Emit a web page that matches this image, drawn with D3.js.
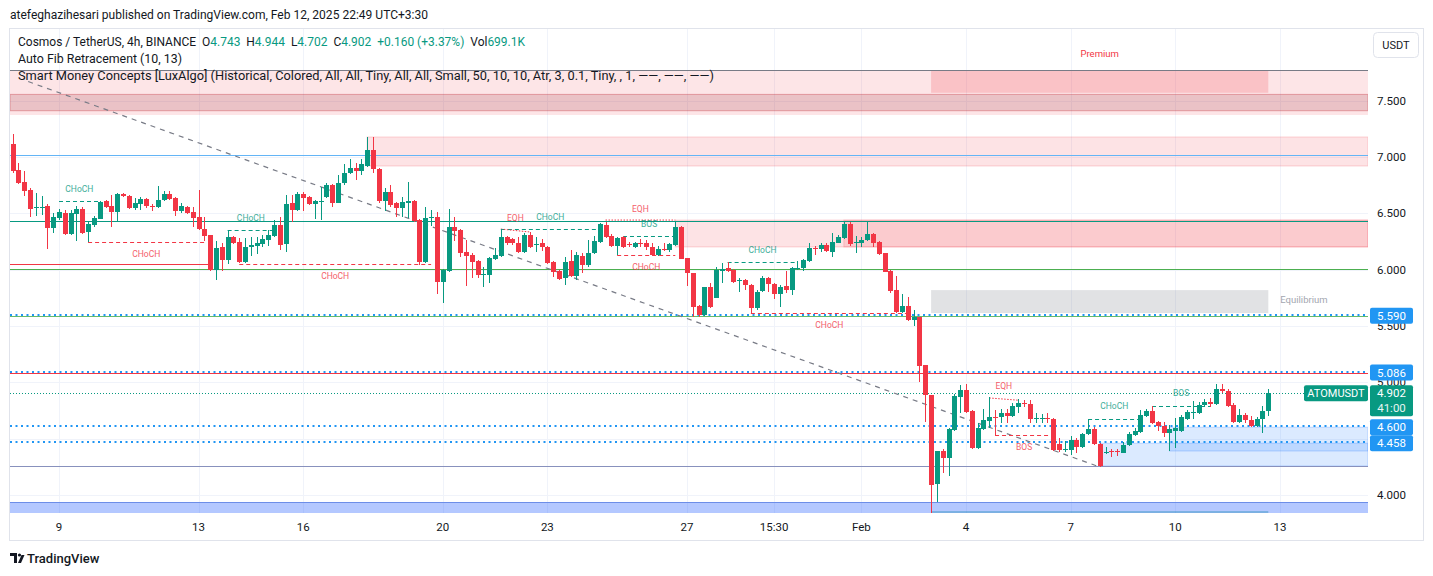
<!DOCTYPE html>
<meta charset="utf-8">
<head>
<script src="https://cdn.jsdelivr.net/npm/d3@7"></script>
<style>
  body { margin: 0; background: #fff; }
  text { font-family: Roboto, "Liberation Sans", sans-serif; }
</style>
</head>
<body>
<svg id="chart" width="1433" height="576"></svg>
<script>
// ---- candle data (4h ATOM/USDT, index 0 = first visible bar) ----
const opens = [7.116,6.884,6.778,6.707,6.547,6.547,6.565,6.369,6.458,6.503,
  6.316,6.494,6.538,6.334,6.396,6.449,6.609,6.565,6.512,6.671,
  6.653,6.547,6.582,6.627,6.565,6.556,6.618,6.671,6.635,6.520,
  6.556,6.512,6.467,6.360,6.307,5.996,6.201,6.085,6.289,6.245,
  6.067,6.201,6.209,6.227,6.263,6.298,6.396,6.227,6.591,6.529,
  6.671,6.644,6.582,6.600,6.644,6.751,6.591,6.769,6.857,6.902,
  6.875,6.920,7.062,6.893,6.609,6.689,6.591,6.547,6.591,6.609,
  6.440,6.067,6.458,6.467,5.890,5.987,6.378,6.351,6.156,6.129,
  6.076,5.952,5.952,6.094,6.120,6.289,6.272,6.236,6.156,6.307,
  6.218,6.236,6.201,6.067,5.987,5.925,6.076,5.943,6.120,6.040,
  6.147,6.245,6.396,6.298,6.209,6.289,6.227,6.201,6.236,6.236,
  6.201,6.129,6.183,6.174,6.218,6.378,6.100,5.969,5.677,5.597,
  5.845,5.748,5.987,6.014,5.996,5.899,5.907,5.863,5.659,5.810,
  5.925,5.872,5.783,5.854,5.819,6.005,6.014,6.076,6.192,6.183,
  6.218,6.156,6.236,6.281,6.405,6.236,6.236,6.263,6.316,6.245,
  6.147,5.987,5.819,5.623,5.677,5.552,5.579,5.153,4.886,4.096,
  4.389,4.327,4.575,4.869,4.931,4.744,4.416,4.584,4.656,4.691,
  4.691,4.727,4.700,4.780,4.815,4.806,4.673,4.673,4.682,4.673,
  4.451,4.398,4.398,4.487,4.425,4.540,4.584,4.451,4.371,4.389,
  4.389,4.371,4.443,4.531,4.558,4.700,4.744,4.647,4.611,4.549,
  4.567,4.567,4.673,4.727,4.727,4.798,4.824,4.806,4.940,4.922,
  4.798,4.647,4.709,4.664,4.611,4.673,4.743]
const highs = [7.204,6.946,6.875,6.725,6.680,6.653,6.582,6.503,6.538,6.529,
  6.529,6.565,6.556,6.423,6.476,6.609,6.618,6.662,6.680,6.680,
  6.662,6.635,6.644,6.635,6.582,6.742,6.698,6.698,6.644,6.591,
  6.565,6.556,6.707,6.467,6.307,6.254,6.236,6.351,6.298,6.281,
  6.281,6.289,6.289,6.307,6.351,6.440,6.467,6.662,6.662,6.689,
  6.689,6.653,6.618,6.733,6.769,6.760,6.840,6.938,6.982,6.946,
  6.982,7.178,7.178,6.902,6.725,6.751,6.600,6.644,6.778,6.618,
  6.449,6.556,6.529,6.512,6.005,6.538,6.467,6.360,6.263,6.147,
  6.085,6.023,6.111,6.192,6.360,6.298,6.281,6.289,6.325,6.334,
  6.289,6.272,6.209,6.076,5.996,6.111,6.174,6.156,6.147,6.263,
  6.298,6.414,6.423,6.316,6.289,6.298,6.245,6.245,6.272,6.263,
  6.236,6.209,6.236,6.236,6.423,6.387,6.103,5.970,5.686,5.845,
  5.881,6.023,6.058,6.067,6.005,5.925,5.916,5.872,5.819,5.943,
  5.934,5.881,5.863,5.987,6.023,6.076,6.094,6.236,6.209,6.236,
  6.236,6.325,6.307,6.423,6.423,6.298,6.289,6.423,6.325,6.254,
  6.147,5.996,5.943,5.783,5.757,5.641,5.579,5.153,4.886,4.389,
  4.407,4.593,4.895,4.975,4.984,4.753,4.638,4.762,4.869,4.753,
  4.762,4.762,4.815,4.851,4.842,4.842,4.727,4.718,4.727,4.682,
  4.505,4.478,4.522,4.505,4.549,4.673,4.602,4.460,4.425,4.407,
  4.407,4.469,4.558,4.593,4.753,4.762,4.789,4.656,4.647,4.620,
  4.682,4.709,4.753,4.833,4.824,4.851,4.860,4.984,4.984,4.940,
  4.815,4.762,4.727,4.700,4.691,4.789,4.944]
const lows = [6.857,6.760,6.653,6.467,6.476,6.485,6.183,6.325,6.440,6.307,
  6.310,6.254,6.320,6.245,6.378,6.449,6.547,6.378,6.423,6.644,
  6.538,6.529,6.529,6.547,6.520,6.550,6.609,6.620,6.476,6.503,
  6.494,6.378,6.351,6.254,5.990,5.907,5.987,6.049,6.227,6.058,
  6.060,6.120,6.138,6.201,6.209,6.289,6.174,6.156,6.423,6.520,
  6.520,6.573,6.449,6.440,6.640,6.556,6.590,6.751,6.849,6.796,
  6.840,6.915,6.857,6.591,6.520,6.556,6.467,6.467,6.458,6.423,
  6.040,6.060,6.387,5.783,5.703,5.980,6.254,6.111,5.854,5.925,
  5.925,5.845,5.881,6.085,6.115,6.218,6.218,6.147,6.150,6.195,
  6.156,6.165,6.049,5.934,5.910,5.863,5.934,5.907,5.969,6.023,
  6.138,6.240,6.285,6.201,6.129,6.195,6.201,6.192,6.201,6.174,
  6.120,6.120,6.165,6.156,6.209,6.090,5.854,5.579,5.579,5.590,
  5.660,5.745,5.881,5.978,5.881,5.801,5.819,5.614,5.641,5.801,
  5.801,5.739,5.668,5.792,5.774,6.000,5.987,6.067,6.129,6.156,
  6.156,6.111,6.236,6.272,6.209,6.147,6.201,6.254,6.201,6.129,
  5.975,5.792,5.614,5.614,5.543,5.499,5.002,4.647,3.810,3.936,
  4.194,4.167,4.567,4.727,4.727,4.407,4.407,4.575,4.593,4.522,
  4.638,4.638,4.691,4.727,4.780,4.638,4.638,4.638,4.638,4.389,
  4.380,4.380,4.354,4.371,4.420,4.531,4.443,4.247,4.363,4.336,
  4.345,4.368,4.434,4.522,4.549,4.691,4.629,4.567,4.513,4.389,
  4.416,4.558,4.664,4.673,4.718,4.789,4.780,4.798,4.904,4.780,
  4.638,4.638,4.638,4.602,4.602,4.549,4.702]
const closes = [6.875,6.769,6.698,6.538,6.556,6.556,6.369,6.467,6.512,6.316,
  6.503,6.538,6.325,6.405,6.458,6.600,6.556,6.512,6.671,6.653,
  6.547,6.591,6.627,6.565,6.556,6.618,6.671,6.627,6.520,6.565,
  6.503,6.458,6.360,6.298,5.996,6.192,6.085,6.289,6.236,6.067,
  6.201,6.218,6.236,6.272,6.307,6.396,6.218,6.582,6.529,6.671,
  6.635,6.582,6.609,6.609,6.751,6.591,6.769,6.857,6.902,6.875,
  6.938,7.062,6.893,6.609,6.689,6.573,6.547,6.600,6.609,6.431,
  6.067,6.458,6.467,5.890,5.996,6.378,6.343,6.147,6.120,6.067,
  5.952,5.960,6.103,6.129,6.289,6.236,6.236,6.156,6.307,6.201,
  6.227,6.201,6.058,5.978,5.916,6.067,5.943,6.129,6.040,6.147,
  6.254,6.405,6.289,6.209,6.285,6.201,6.218,6.236,6.227,6.201,
  6.129,6.183,6.174,6.227,6.378,6.094,5.969,5.668,5.597,5.845,
  5.668,5.996,6.005,5.987,5.890,5.907,5.863,5.659,5.801,5.925,
  5.872,5.783,5.845,5.819,6.014,6.014,6.085,6.192,6.183,6.218,
  6.165,6.245,6.289,6.405,6.227,6.245,6.263,6.316,6.236,6.138,
  5.978,5.810,5.623,5.677,5.552,5.579,5.144,4.886,4.087,4.389,
  4.327,4.584,4.878,4.931,4.735,4.416,4.593,4.664,4.691,4.682,
  4.727,4.700,4.789,4.815,4.806,4.673,4.682,4.682,4.673,4.398,
  4.398,4.407,4.487,4.425,4.540,4.584,4.451,4.256,4.380,4.380,
  4.380,4.443,4.540,4.567,4.709,4.744,4.638,4.611,4.549,4.584,
  4.593,4.691,4.736,4.736,4.798,4.824,4.806,4.940,4.922,4.789,
  4.647,4.709,4.664,4.611,4.673,4.744,4.902]

// ---- axes ----
const timeTickIndex = [8, 32, 50, 74, 92, 116, 131, 146, 164, 182, 200, 218]
const timeTickLabels = ["9", "13", "16", "20", "23", "27", "15:30", "Feb", "4", "7", "10", "13"]
const priceTicks = [4, 4.5, 5, 5.5, 6, 6.5, 7, 7.5]

// ---- indicator levels ----
const fibLevels = [7.772, 7.022, 6.432, 6.009, 5.59, 5.086, 4.256, 3.936]
const markedPrices = [5.590, 5.086, 4.600, 4.458]
const lastPrice = 4.902
const countdown = "41:00"
const symbolName = "ATOMUSDT"
const premiumBand = [7.772, 7.373]
const premiumInner = [7.556, 7.411]
const smcZones = [ // [from, to, top, bottom, name]
  [158, 216, 7.772, 7.57, "Premium"],
  [158, 216, 5.818, 5.614, "Equilibrium"],
  [158, 216, 3.856, 3.60, "Discount"]]
const bearBlocks = [[61, 7.178, 6.920], [114, 6.440, 6.201], [143, 6.440, 6.201]]
const bullBlocks = [[187, 4.458, 4.256], [199, 4.600, 4.389]]
const lowBlock = [3.936, 3.70]
const weakLow = [-2, 34, 6.05]
const trendLine = [[2.7, 7.67], [187, 4.247]]
const structure = [ // [from, to, price, side, label]
  [8, 15, 6.609, "bull", "CHoCH"],
  [13, 33, 6.245, "bear", "CHoCH"],
  [37, 45, 6.351, "bull", "CHoCH"],
  [39, 72, 6.05, "bear", "CHoCH"],
  [84, 101, 6.36, "bull", "CHoCH"],
  [105, 114, 6.298, "bull", "BOS"],
  [104, 114, 6.129, "bear", "CHoCH"],
  [123, 135, 6.067, "bull", "CHoCH"],
  [127, 154, 5.614, "bear", "CHoCH"],
  [169, 179, 4.531, "bear", "BOS"],
  [185, 194, 4.673, "bull", "CHoCH"],
  [196, 206, 4.789, "bull", "BOS"]]
const equalHighs = [[84, 89, 6.360, 6.334], [102, 114, 6.44, 6.44], [168, 173, 4.86, 4.84]]

const up = "#089981", down = "#f23645", ink = "#131722"
const fibColors = ["#787b86", "#64b5f6", "#089981", "#4caf50", "#66bb6a", "#f23645", "#8891bd", "#6d8ee8"]

const paneL = 10, paneR = 1368, paneT = 29, paneB = 513

const x = d3.scaleLinear().domain([0, 216]).range([12.5, 1268.3])
const y = d3.scaleLinear().domain([4, 7.5]).range([494.8, 100.7])

const svg = d3.select("#chart")
svg.append("rect").attr("width", 1433).attr("height", 576).attr("fill", "#fff")

svg.append("defs").append("clipPath").attr("id", "pane")
  .append("rect").attr("x", paneL).attr("y", paneT).attr("width", paneR - paneL).attr("height", paneB - paneT)

// frame
svg.append("rect").attr("x", 9.5).attr("y", 28.5).attr("width", 1414).attr("height", 512)
  .attr("fill", "none").attr("stroke", "#e0e3eb")

const pane = svg.append("g").attr("clip-path", "url(#pane)")

// grid
pane.selectAll(".hgrid").data(priceTicks).join("line")
  .attr("x1", paneL).attr("x2", paneR)
  .attr("y1", d => Math.round(y(d)) + 0.5).attr("y2", d => Math.round(y(d)) + 0.5)
  .attr("stroke", "#f0f3fa")
pane.selectAll(".vgrid").data(timeTickIndex).join("line")
  .attr("x1", d => Math.round(x(d)) + 0.5).attr("x2", d => Math.round(x(d)) + 0.5)
  .attr("y1", paneT).attr("y2", paneB)
  .attr("stroke", "#f0f3fa")

// zones
pane.append("rect").attr("x", paneL).attr("width", paneR - paneL)
  .attr("y", y(premiumBand[0])).attr("height", y(premiumBand[1]) - y(premiumBand[0]))
  .attr("fill", "rgba(242,54,69,0.13)")
pane.append("rect").attr("x", paneL).attr("width", paneR - paneL)
  .attr("y", y(premiumInner[0])).attr("height", y(premiumInner[1]) - y(premiumInner[0]))
  .attr("fill", "rgba(150,40,50,0.18)").attr("stroke", "rgba(200,60,70,0.4)")

const zoneFill = { Premium: "rgba(242,54,69,0.2)", Equilibrium: "rgba(120,123,134,0.22)", Discount: "rgba(8,153,129,0.35)" }
pane.selectAll(".smc").data(smcZones).join("rect")
  .attr("x", d => x(d[0])).attr("width", d => x(d[1]) - x(d[0]))
  .attr("y", d => y(d[2])).attr("height", d => y(d[3]) - y(d[2]))
  .attr("fill", d => zoneFill[d[4]])

pane.selectAll(".bear").data(bearBlocks).join("rect")
  .attr("x", d => x(d[0])).attr("width", d => paneR - x(d[0]))
  .attr("y", d => y(d[1])).attr("height", d => y(d[2]) - y(d[1]))
  .attr("fill", "rgba(242,54,69,0.14)").attr("stroke", "rgba(242,54,69,0.2)")

pane.selectAll(".bull").data(bullBlocks).join("rect")
  .attr("x", d => x(d[0])).attr("width", d => paneR - x(d[0]))
  .attr("y", d => y(d[1])).attr("height", d => y(d[2]) - y(d[1]))
  .attr("fill", "rgba(41,130,255,0.17)").attr("stroke", "rgba(41,120,255,0.25)")

pane.append("rect").attr("x", paneL).attr("width", paneR - paneL)
  .attr("y", y(lowBlock[0])).attr("height", y(lowBlock[1]) - y(lowBlock[0]))
  .attr("fill", "rgba(41,98,255,0.35)")

// marked price lines (drawn just above their level)
pane.selectAll(".mark").data(markedPrices).join("line")
  .attr("x1", paneL).attr("x2", paneR)
  .attr("y1", d => Math.round(y(d)) - 1).attr("y2", d => Math.round(y(d)) - 1)
  .attr("stroke", "#2196f3").attr("stroke-width", 2).attr("stroke-dasharray", "2,3.5")

// fib lines
pane.selectAll(".fib").data(fibLevels).join("line")
  .attr("x1", paneL).attr("x2", paneR)
  .attr("y1", d => Math.round(y(d)) + 0.5).attr("y2", d => Math.round(y(d)) + 0.5)
  .attr("stroke", (d, i) => fibColors[i]).attr("stroke-width", 1.2)

// weak low line
pane.append("line")
  .attr("x1", x(weakLow[0])).attr("x2", x(weakLow[1]))
  .attr("y1", Math.round(y(weakLow[2])) + 0.5).attr("y2", Math.round(y(weakLow[2])) + 0.5)
  .attr("stroke", down).attr("stroke-width", 1.2)

pane.append("line")
  .attr("x1", paneL).attr("x2", paneR)
  .attr("y1", Math.round(y(lastPrice)) + 0.5).attr("y2", Math.round(y(lastPrice)) + 0.5)
  .attr("stroke", up).attr("stroke-dasharray", "1,2")

// trend line
pane.append("line")
  .attr("x1", x(trendLine[0][0])).attr("y1", y(trendLine[0][1]))
  .attr("x2", x(trendLine[1][0])).attr("y2", y(trendLine[1][1]))
  .attr("stroke", "#787b86").attr("stroke-width", 1.2).attr("stroke-dasharray", "5,5")

// structure lines + labels
pane.selectAll(".struct").data(structure).join("line")
  .attr("x1", d => x(d[0])).attr("x2", d => x(d[1]))
  .attr("y1", d => Math.round(y(d[2])) + 0.5).attr("y2", d => Math.round(y(d[2])) + 0.5)
  .attr("stroke", d => d[3] === "bull" ? up : down).attr("stroke-width", 1.2).attr("stroke-dasharray", "4,3")

pane.selectAll(".eqh").data(equalHighs).join("line")
  .attr("x1", d => x(d[0])).attr("x2", d => x(d[1]))
  .attr("y1", d => y(d[2])).attr("y2", d => y(d[3]))
  .attr("stroke", down).attr("stroke-dasharray", "1.5,1.5")

// candles
const candles = d3.range(opens.length).map(i => ({
  i, o: opens[i], c: closes[i],
  h: Math.max(highs[i], opens[i], closes[i]), l: Math.min(lows[i], opens[i], closes[i])
}))
const cg = pane.append("g").attr("shape-rendering", "crispEdges")
cg.selectAll("line").data(candles).join("line")
  .attr("x1", d => Math.round(x(d.i)) + 0.5).attr("x2", d => Math.round(x(d.i)) + 0.5)
  .attr("y1", d => y(d.h)).attr("y2", d => y(d.l))
  .attr("stroke", d => d.c >= d.o ? up : down)
cg.selectAll("rect").data(candles).join("rect")
  .attr("x", d => Math.round(x(d.i)) - 2).attr("width", 5)
  .attr("y", d => y(Math.max(d.o, d.c)))
  .attr("height", d => Math.max(1, Math.abs(y(d.o) - y(d.c))))
  .attr("fill", d => d.c >= d.o ? up : down)

// small labels
pane.selectAll(".slabel").data(structure.filter(d => d[4])).join("text")
  .attr("x", d => (x(d[0]) + x(d[1])) / 2)
  .attr("y", d => y(d[2]) + (d[3] === "bull" ? -12.5 : 12))
  .attr("dy", "0.35em").attr("text-anchor", "middle")
  .attr("font-size", 8.5).attr("fill", d => d[3] === "bull" ? up : down).attr("opacity", 0.8)
  .text(d => d[4])
pane.selectAll(".eqlabel").data(equalHighs).join("text")
  .attr("x", d => (x(d[0]) + x(d[1])) / 2)
  .attr("y", d => y(Math.max(d[2], d[3])) - 11.5)
  .attr("dy", "0.35em").attr("text-anchor", "middle")
  .attr("font-size", 8.5).attr("fill", down).attr("opacity", 0.8)
  .text("EQH")

const prem = smcZones[0], equi = smcZones[1]
pane.append("text").attr("x", x((prem[0] + prem[1]) / 2)).attr("y", y(prem[2]) - 16)
  .attr("dy", "0.35em").attr("text-anchor", "middle").attr("font-size", 9.5)
  .attr("fill", down).text(prem[4])
pane.append("text").attr("x", x(equi[1]) + 12).attr("y", (y(equi[2]) + y(equi[3])) / 2 - 2)
  .attr("dy", "0.35em").attr("font-size", 9.5).attr("fill", "#a3a6af").text(equi[4])

// ---- price axis (labels hidden where a price tag sits on top) ----
const shownTicks = priceTicks.filter(t => markedPrices.every(p => Math.abs(y(t) - y(p)) > 7))
svg.selectAll(".ptick").data(shownTicks).join("text")
  .attr("x", 1377).attr("y", d => y(d)).attr("dy", "0.35em")
  .attr("font-size", 11.5).attr("fill", ink)
  .text(d => d3.format(".3f")(d))

const tags = svg.append("g")
markedPrices.forEach(p => {
  const cy = y(p)
  tags.append("rect").attr("x", 1370).attr("y", cy - 8).attr("width", 43).attr("height", 16)
    .attr("rx", 2).attr("fill", "#2196f3")
  tags.append("text").attr("x", 1391.5).attr("y", cy).attr("dy", "0.35em").attr("text-anchor", "middle")
    .attr("font-size", 11.5).attr("fill", "#fff").text(d3.format(".3f")(p))
})
const ly = y(lastPrice)
tags.append("rect").attr("x", 1370).attr("y", ly - 8).attr("width", 43).attr("height", 31)
  .attr("rx", 2).attr("fill", up)
tags.append("text").attr("x", 1391.5).attr("y", ly).attr("dy", "0.35em").attr("text-anchor", "middle")
  .attr("font-size", 11.5).attr("fill", "#fff").text(d3.format(".3f")(lastPrice))
tags.append("text").attr("x", 1391.5).attr("y", ly + 15).attr("dy", "0.35em").attr("text-anchor", "middle")
  .attr("font-size", 11.5).attr("fill", "#e6f5f2").text(countdown)
tags.append("rect").attr("x", 1304).attr("y", ly - 8).attr("width", 64).attr("height", 16)
  .attr("rx", 2).attr("fill", up)
tags.append("text").attr("x", 1336).attr("y", ly).attr("dy", "0.35em").attr("text-anchor", "middle")
  .attr("font-size", 11).attr("fill", "#fff").text(symbolName)

svg.append("rect").attr("x", 1373.5).attr("y", 32.5).attr("width", 45).attr("height", 25).attr("rx", 4)
  .attr("fill", "#fff").attr("stroke", "#e0e3eb")
svg.append("text").attr("x", 1396).attr("y", 45).attr("dy", "0.35em").attr("text-anchor", "middle")
  .attr("font-size", 11).attr("fill", ink).text("USDT")

// ---- time axis ----
svg.selectAll(".ttick").data(timeTickIndex).join("text")
  .attr("x", d => x(d)).attr("y", 527).attr("dy", "0.35em").attr("text-anchor", "middle")
  .attr("font-size", 11.5).attr("fill", ink)
  .text((d, i) => timeTickLabels[i])

// ---- header / legend ----
const gap = "\u00a0\u00a0"
svg.append("text").attr("x", 10).attr("y", 19).attr("font-size", 12).attr("fill", ink)
  .attr("textLength", 418).attr("lengthAdjust", "spacingAndGlyphs")
  .text("atefeghazihesari published on TradingView.com, Feb 12, 2025 22:49 UTC+3:30")

const o = opens[216], h = highs[216], l = lows[216], c = closes[216]
const leg = svg.append("text").attr("x", 18).attr("y", 45.5).attr("font-size", 12).attr("fill", ink)
  .attr("textLength", 507).attr("lengthAdjust", "spacingAndGlyphs")
leg.append("tspan").text("Cosmos / TetherUS, 4h, BINANCE" + gap)
;[["O", o], ["H", h], ["L", l], ["C", c]].forEach(([k, v]) => {
  leg.append("tspan").text(k)
  leg.append("tspan").attr("fill", up).text(d3.format(".3f")(v) + gap)
})
leg.append("tspan").attr("fill", up).text("+0.160 (+3.37%)" + gap)
leg.append("tspan").text("Vol")
leg.append("tspan").attr("fill", up).text("699.1K")

svg.append("text").attr("x", 18).attr("y", 62.5).attr("font-size", 12.3).attr("fill", ink)
  .attr("textLength", 164).attr("lengthAdjust", "spacingAndGlyphs")
  .text("Auto Fib Retracement (10, 13)")
svg.append("text").attr("x", 18).attr("y", 79.5).attr("font-size", 12.3).attr("fill", ink)
  .attr("textLength", 696).attr("lengthAdjust", "spacingAndGlyphs")
  .text("Smart Money Concepts [LuxAlgo] (Historical, Colored, All, All, Tiny, All, All, Small, 50, 10, 10, Atr, 3, 0.1, Tiny, , 1, \u2014\u2014, \u2014\u2014, \u2014\u2014)")

// ---- footer logo ----
const logo = svg.append("g").attr("fill", ink)
logo.append("path").attr("d", "M10,553 h7 v10 h-3 v-7 h-4 z")
logo.append("circle").attr("cx", 19.5).attr("cy", 555).attr("r", 1.6)
logo.append("path").attr("d", "M18,563 l3.5,-8 h3 l-3.5,8 z")
svg.append("text").attr("x", 27).attr("y", 563).attr("font-size", 13).attr("fill", ink)
  .attr("font-weight", 500).text("TradingView")
</script>
</body>
